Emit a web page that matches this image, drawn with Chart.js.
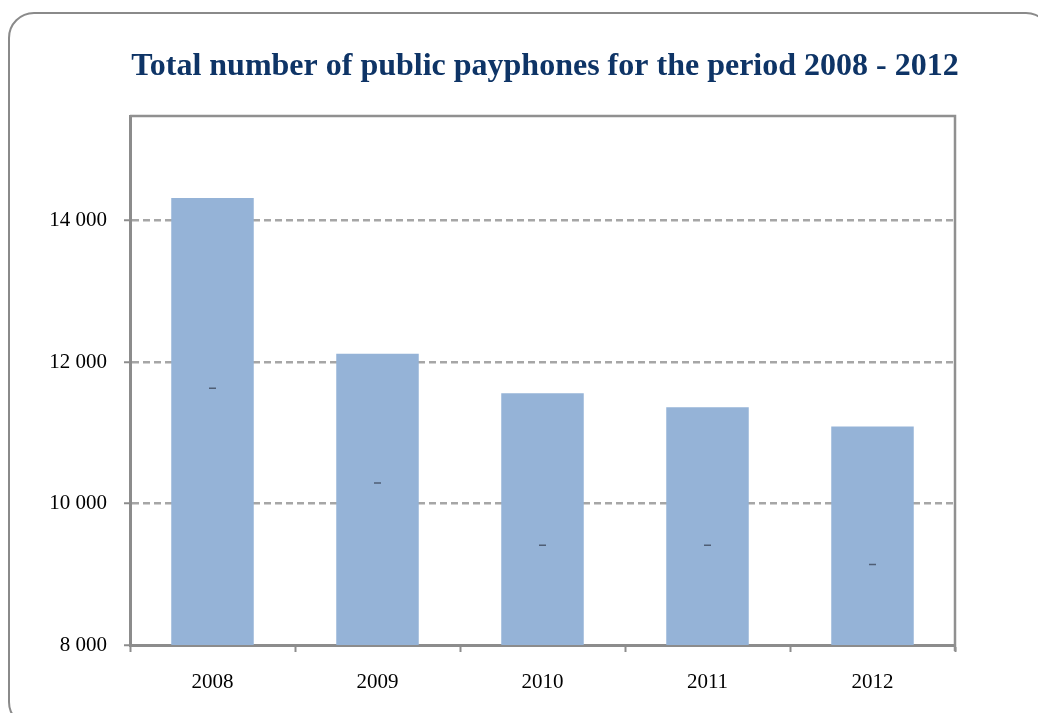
<!DOCTYPE html>
<html>
<head>
<meta charset="utf-8">
<script src="https://cdn.jsdelivr.net/npm/chart.js@4.4.1/dist/chart.umd.min.js"></script>
<style>
    html, body { margin: 0; padding: 0; background: #fff; overflow: hidden; }
    .frame {
        position: absolute; left: 8px; top: 12px; width: 1040px; height: 712px;
        border: 2.5px solid #8a8a8a; border-radius: 26px;
    }
    #chartWrap { position: absolute; left: 0; top: 0; width: 1038px; height: 713px; }
</style>
</head>
<body>
<div class="frame"></div>
<div id="chartWrap"><canvas id="payphoneChart"></canvas></div>
<script>
const years = ['2008', '2009', '2010', '2011', '2012'];
const payphones = [14320, 12120, 11560, 11360, 11090];
const markerValues = [11630, 10290, 9410, 9410, 9140];
const yTicks = [8000, 10000, 12000, 14000];

const serif = "'Liberation Serif', 'Times New Roman', serif";

function formatThousands(v) {
    return String(v).replace(/\B(?=(\d{3})+(?!\d))/g, ' ');
}

// title and the grey frame on top / right of the plot area
const decorations = {
    id: 'decorations',
    afterDraw(chart) {
        const ctx = chart.ctx;
        const a = chart.chartArea;
        ctx.save();
        ctx.strokeStyle = '#909090';
        ctx.lineWidth = 2.5;
        ctx.beginPath();
        ctx.moveTo(a.left, a.top);
        ctx.lineTo(a.right, a.top);
        ctx.lineTo(a.right, a.bottom + 6);
        ctx.stroke();

        ctx.fillStyle = '#0E3466';
        ctx.font = 'bold 32px ' + serif;
        ctx.textAlign = 'center';
        ctx.textBaseline = 'middle';
        ctx.fillText('Total number of public payphones for the period 2008 - 2012', 545, 67);
        ctx.restore();
    }
};

new Chart(document.getElementById('payphoneChart'), {
    type: 'bar',
    data: {
        labels: years,
        datasets: [
            {
                type: 'line',
                data: markerValues,
                showLine: false,
                pointStyle: 'line',
                pointRadius: 3.5,
                borderWidth: 1.5,
                borderColor: '#4f5e75',
                order: 1
            },
            {
                data: payphones,
                backgroundColor: '#95B3D7',
                barPercentage: 0.5,
                categoryPercentage: 1,
                order: 2
            }
        ]
    },
    options: {
        responsive: true,
        maintainAspectRatio: false,
        animation: false,
        layout: { padding: { left: 0, right: 83, top: 116, bottom: 0 } },
        plugins: { legend: { display: false }, tooltip: { enabled: false }, title: { display: false } },
        scales: {
            x: {
                afterFit(scale) { scale.height = 68; },
                border: { color: '#8c8c8c', width: 3 },
                grid: { drawOnChartArea: false, drawTicks: true, tickLength: 7, tickColor: '#8c8c8c', tickWidth: 2 },
                ticks: { color: '#000', padding: 18, font: { family: serif, size: 21 } }
            },
            y: {
                min: 8000,
                max: 15480,
                afterFit(scale) { scale.width = 130; },
                afterBuildTicks(scale) { scale.ticks = yTicks.map(v => ({ value: v })); },
                border: { color: '#8c8c8c', width: 3, dash: [7, 4] },
                grid: { color: '#a6a6a6', lineWidth: 2.5, tickLength: 6, tickColor: '#8c8c8c', tickWidth: 2, tickBorderDash: [] },
                ticks: { color: '#000', padding: 17, font: { family: serif, size: 21 }, callback: v => formatThousands(v) }
            }
        }
    },
    plugins: [decorations]
});
</script>
</body>
</html>
